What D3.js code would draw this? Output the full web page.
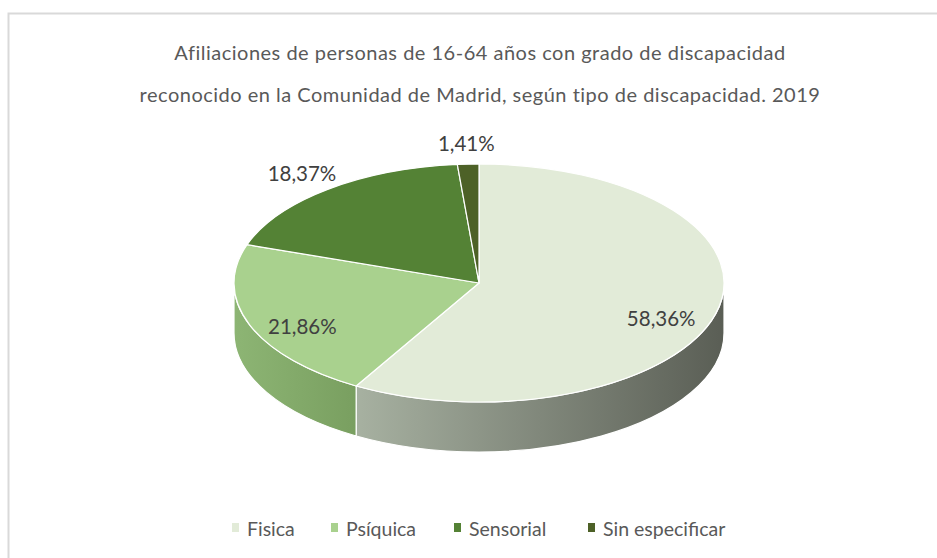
<!DOCTYPE html>
<html>
<head>
<meta charset="utf-8">
<script src="https://cdn.jsdelivr.net/npm/d3@7"></script>
<style>
  body { margin: 0; background: #fff; }
  svg { font-family: Lato, "Open Sans", sans-serif; }
</style>
</head>
<body>
<div id="chart"></div>
<script>
var svgWidth = 937;
var svgHeight = 558;

// Data
var categories = ["Fisica", "Psíquica", "Sensorial", "Sin especificar"];
var shares = [58.36, 21.86, 18.37, 1.41];
var titleLines = [
  "Afiliaciones de personas de 16-64 años con grado de discapacidad",
  "reconocido en la Comunidad de Madrid, según tipo de discapacidad. 2019"
];

var topColors = ["#e2ebd8", "#a9d18e", "#548235", "#4d6127"];
var sideColors = [["#a7b1a1", "#5a5e55"], ["#8db574", "#799f60"], ["#446b2b", "#446b2b"], ["#3d4e1f", "#3d4e1f"]];
var outsideLabels = ["Sensorial", "Sin especificar"];

var cx = 479, cy = 283, rx = 245, ry = 119, depth = 50;

var svg = d3.select("#chart")
  .append("svg")
  .attr("width", svgWidth)
  .attr("height", svgHeight);

// chart frame
svg.append("rect")
  .attr("x", 8.5)
  .attr("y", 13.5)
  .attr("width", 960)
  .attr("height", 600)
  .attr("fill", "none")
  .attr("stroke", "#d9d9d9")
  .attr("stroke-width", 2);

// Title
svg.selectAll("text.title")
  .data(titleLines)
  .enter()
  .append("text")
  .attr("class", "title")
  .attr("x", 480)
  .attr("y", (d, i) => 60 + i * 42)
  .attr("text-anchor", "middle")
  .attr("font-size", "20px")
  .attr("letter-spacing", "0.5px")
  .attr("fill", "#595959")
  .text(d => d);

var pie = d3.pie().sort(null).value(d => d);
var arcs = pie(shares);

function pt(a, dy) {
  return [cx + rx * Math.sin(a), cy - ry * Math.cos(a) + (dy || 0)];
}

var defs = svg.append("defs");

// Sides (front half only: angles between PI/2 and 3PI/2)
var sideGroup = svg.append("g");
arcs.forEach(function(d, i) {
  var s = Math.max(d.startAngle, Math.PI / 2);
  var e = Math.min(d.endAngle, 3 * Math.PI / 2);
  if (e <= s) return;
  var p0 = pt(s), p1 = pt(e), p2 = pt(e, depth), p3 = pt(s, depth);
  var large = (e - s) > Math.PI ? 1 : 0;

  // lighter at the left end of the visible side
  var grad = defs.append("linearGradient")
    .attr("id", "side" + i)
    .attr("gradientUnits", "userSpaceOnUse")
    .attr("x1", Math.min(p0[0], p1[0])).attr("x2", Math.max(p0[0], p1[0]))
    .attr("y1", 0).attr("y2", 0);
  grad.append("stop").attr("offset", "0%").attr("stop-color", sideColors[i][0]);
  grad.append("stop").attr("offset", "100%").attr("stop-color", sideColors[i][1]);

  var path = "M" + p0 + " A" + rx + " " + ry + " 0 " + large + " 1 " + p1 +
    " L" + p2 + " A" + rx + " " + ry + " 0 " + large + " 0 " + p3 + " Z";
  sideGroup.append("path")
    .attr("d", path)
    .attr("fill", "url(#side" + i + ")")
    .attr("stroke", "#fff")
    .attr("stroke-width", 1.2)
    .attr("stroke-linejoin", "round");
});

// Top faces
svg.append("g")
  .selectAll("path")
  .data(arcs)
  .enter()
  .append("path")
  .attr("d", function(d) {
    var p0 = pt(d.startAngle), p1 = pt(d.endAngle);
    var large = (d.endAngle - d.startAngle) > Math.PI ? 1 : 0;
    return "M" + [cx, cy] + " L" + p0 + " A" + rx + " " + ry + " 0 " + large + " 1 " + p1 + " Z";
  })
  .attr("fill", (d, i) => topColors[i])
  .attr("stroke", "#fff")
  .attr("stroke-width", 1.2)
  .attr("stroke-linejoin", "round");

// Data labels
svg.append("g")
  .selectAll("text")
  .data(arcs)
  .enter()
  .append("text")
  .attr("transform", function(d, i) {
    var mid = (d.startAngle + d.endAngle) / 2;
    var out = outsideLabels.indexOf(categories[i]) >= 0;
    var r = out ? 1.17 : 0.77;
    var x = cx + rx * r * Math.sin(mid);
    var y = cy - ry * r * Math.cos(mid) + (out ? 0 : 12);
    return "translate(" + x + "," + y + ")";
  })
  .attr("text-anchor", "middle")
  .attr("dy", "0.35em")
  .attr("font-size", "20.5px")
  .attr("fill", "#404040")
  .text(d => d3.format(".2f")(d.data).replace(".", ",") + "%");

// Legend
var legendX = [232, 331, 454, 588];
var legend = svg.append("g")
  .selectAll("g")
  .data(categories)
  .enter()
  .append("g")
  .attr("transform", (d, i) => "translate(" + legendX[i] + ",522)");

legend.append("rect")
  .attr("width", 7)
  .attr("height", 9)
  .attr("y", 1)
  .attr("fill", (d, i) => topColors[i]);

legend.append("text")
  .attr("x", 15)
  .attr("y", 14)
  .attr("font-size", "19.5px")
  .attr("fill", "#595959")
  .text(d => d);
</script>
</body>
</html>
